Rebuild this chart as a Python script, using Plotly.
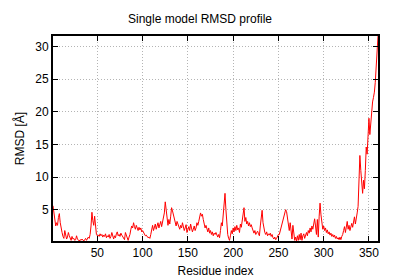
import plotly.graph_objects as go

residues = list(range(1, 361))
rmsd = [
    5.6, 4.5, 3.0, 2.5, 3.0, 2.6, 3.8, 4.4, 3.0, 2.0,
    1.5, 0.9, 0.6, 1.8, 1.2, 0.5, 0.8, 1.5, 1.0, 0.4,
    0.3, 0.9, 0.5, 0.6, 0.3, 0.4, 1.0, 0.5, 0.3, 0.2,
    0.4, 0.3, 0.5, 0.3, 0.2, 0.4, 0.6, 0.3, 0.5, 0.8,
    0.6, 1.2, 2.5, 4.6, 3.3, 2.6, 4.0, 2.2, 1.2, 1.0,
    1.1, 0.9, 1.3, 1.0, 1.2, 0.8, 1.1, 0.9, 1.3, 0.7,
    1.0, 0.8, 1.2, 0.6, 0.9, 1.5, 0.8, 0.5, 1.0, 0.7,
    1.3, 1.6, 1.0, 1.2, 0.9, 1.4, 1.1, 0.8, 0.5, 0.4,
    1.5, 1.0, 0.5, 0.3, 0.8, 1.2, 2.0, 2.5, 2.2, 3.0,
    2.4, 2.0, 2.6, 2.1, 1.8, 2.3, 1.9, 2.2, 1.6, 1.8,
    1.5, 1.3, 1.0, 1.1, 0.9, 0.7, 0.8, 0.6, 1.2, 2.0,
    2.6, 1.8, 2.2, 2.8, 2.0, 2.5, 3.0, 2.2, 2.7, 3.2,
    2.4, 3.0, 3.5, 4.5, 6.2, 4.8, 3.0, 2.6, 3.5, 2.8,
    4.0, 5.3, 4.8, 4.2, 3.6, 3.0, 2.5, 3.2, 2.8, 2.4,
    2.0, 2.6, 2.2, 3.0, 2.4, 1.8, 2.2, 2.7, 1.5, 2.0,
    2.4, 1.8, 2.8, 2.2, 1.6, 2.0, 2.5, 1.8, 2.2, 3.0,
    2.6, 3.2, 3.8, 4.5, 4.0, 4.3, 3.5, 2.8, 2.2, 2.6,
    2.0, 1.6, 2.2, 1.4, 1.8, 1.2, 1.6, 1.0, 1.4, 1.2,
    1.5, 1.0, 0.8, 1.2, 0.7, 1.8, 3.0, 2.5, 4.5, 6.5,
    7.5, 5.0, 2.5, 1.2, 0.6, 0.3, 1.0, 1.8, 1.3, 2.2,
    1.6, 2.4, 1.8, 2.6, 1.9, 2.2, 1.5, 2.8, 2.3, 3.5,
    4.5, 5.3, 3.2, 3.8, 2.8, 3.2, 2.5, 3.0, 2.4, 2.7,
    2.2, 1.6, 1.4, 1.8, 1.2, 1.5, 1.7, 1.3, 1.0, 2.5,
    4.0, 4.9, 3.0, 1.8, 1.5, 1.2, 1.6, 1.0, 1.3, 1.1,
    1.4, 0.9, 1.2, 0.7, 0.5, 0.8, 0.4, 0.6, 0.9, 1.2,
    1.2, 1.8, 2.5, 3.0, 3.6, 4.2, 4.6, 5.0, 4.7, 3.8,
    2.8, 1.8, 3.0, 1.2, 0.5, 2.6, 1.0, 0.3, 0.8, 0.2,
    1.0, 0.3, 1.2, 0.4, 1.4, 0.3, 1.0, 1.3, 0.6, 1.2,
    1.5, 1.0, 1.8, 1.4, 2.2, 1.6, 2.5, 2.0, 3.2, 3.6,
    2.5, 1.2, 3.5, 0.8, 4.0, 6.0, 4.2, 2.8, 2.0, 2.5,
    1.8, 2.2, 1.5, 1.9, 1.3, 1.6, 1.1, 1.4, 0.9, 1.2,
    0.8, 1.1, 0.6, 0.9, 0.5, 0.7, 0.4, 0.8, 0.4, 0.9,
    1.2, 1.8, 2.4, 1.5, 2.8, 3.2, 2.0, 2.6, 1.8, 2.2,
    2.9, 2.3, 3.6, 3.9, 2.8, 3.4, 4.5, 5.5, 9.0, 13.3,
    11.0, 9.0, 7.5, 9.5, 8.2, 11.0, 14.6, 13.5, 15.5, 19.0,
    16.5, 18.5, 20.2, 21.5, 22.2, 23.0, 24.5, 27.0, 29.5, 31.6,
]
x_ticks = [50, 100, 150, 200, 250, 300, 350]
y_ticks = [5, 10, 15, 20, 25, 30]

font = "Liberation Sans, Arial, sans-serif"

fig = go.Figure(go.Scatter(x=residues, y=rmsd, mode="lines",
                           line=dict(color="#ff0000", width=1)))

axis_common = dict(
    showline=True, linecolor="black", linewidth=2, mirror="ticks",
    ticks="inside", ticklen=5, tickwidth=1, tickcolor="black",
    showgrid=True, gridcolor="#b4b4b4", gridwidth=1, griddash="1px,2px",
    zeroline=False, automargin=False,
    tickfont=dict(family=font, size=12, color="black"),
)

fig.update_layout(
    width=400, height=280,
    margin=dict(l=53, r=22, t=36, b=39),
    paper_bgcolor="white", plot_bgcolor="white",
    showlegend=False,
    title=dict(text="Single model RMSD profile", x=0.5, xanchor="center",
               y=1 - 19 / 280, yanchor="middle", yref="container",
               font=dict(family=font, size=12, color="black")),
    xaxis=dict(range=[1, 360], tickvals=x_ticks, **axis_common,
               title=dict(text="Residue index", standoff=7,
                          font=dict(family=font, size=12, color="black"))),
    yaxis=dict(range=[0.2, 31.6], tickvals=y_ticks, **axis_common,
               title=dict(text="RMSD [Å]", standoff=8,
                          font=dict(family=font, size=12, color="black"))),
)

fig.write_html("out.html")
